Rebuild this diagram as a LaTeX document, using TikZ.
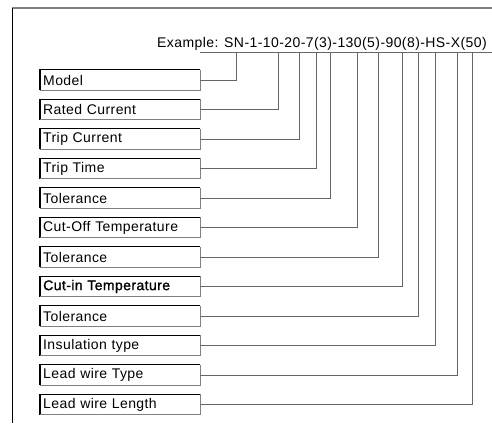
\documentclass[tikz,border=0pt]{standalone}
\usepackage{fontspec}
\setmainfont[LetterSpace=3]{Liberation Sans}
\newfontfamily\darkfont[LetterSpace=3,FakeBold=1.2]{Liberation Sans}
\usepackage{tikz}

\tikzset{
  partbox/.style={anchor=west, minimum width=160pt, minimum height=20pt,
    inner sep=3pt, text width=154pt, align=left,
    font=\fontsize{14}{16}\selectfont,
    append after command={
      \pgfextra{\draw[black, line width=1.2pt] (\tikzlastnode.south west) |- (\tikzlastnode.north east);
      \draw[gray, line width=1.2pt] (\tikzlastnode.north east) |- (\tikzlastnode.south west);}}},
  lead/.style={black!60, line width=1pt}
}

\begin{document}
\begin{tikzpicture}[x=1pt, y=-1pt]
\useasboundingbox (0,0) rectangle (492,423);
% frame
\draw[gray, line width=1.5pt] (12,8) -- (492,8);
\draw[black, line width=1pt] (12.5,8) -- (12.5,423);

% code line
\node[anchor=base west, inner sep=0pt, font=\fontsize{14}{16}\selectfont] (code) at (157,47) {Example: SN-1-10-20-7(3)-130(5)-90(8)-HS-X(50)};
\coordinate (ul-start) at (200,52);
\coordinate (ul-end) at (492,52);
\draw[lead] (ul-start) -- (ul-end);

% taps on the underline
\coordinate (t1) at (236,52);
\coordinate (t2) at (278,52);
\coordinate (t3) at (299,52);
\coordinate (t4) at (316,52);
\coordinate (t5) at (330,52);
\coordinate (t6) at (357,52);
\coordinate (t7) at (378,52);
\coordinate (t8) at (402,52);
\coordinate (t9) at (418,52);
\coordinate (t10) at (435,52);
\coordinate (t11) at (457,52);
\coordinate (t12) at (472,52);

% boxes
\node[partbox] (model) at (40,80) {Model};
\node[partbox] (rated) at (40,109.5) {Rated Current};
\node[partbox] (trip) at (40,139) {Trip Current};
\node[partbox] (time) at (40,168.5) {Trip Time};
\node[partbox] (tol1) at (40,198) {Tolerance};
\node[partbox] (cutoff) at (40,227.5) {Cut-Off Temperature};
\node[partbox] (tol2) at (40,257) {Tolerance};
\node[partbox, font=\darkfont\fontsize{14}{16}\selectfont] (cutin) at (40,286.5) {Cut-in Temperature};
\node[partbox] (tol3) at (40,316) {Tolerance};
\node[partbox] (insul) at (40,345.5) {Insulation type};
\node[partbox] (wiretype) at (40,375) {Lead wire Type};
\node[partbox] (wirelen) at (40,404.5) {Lead wire Length};

% leads
\draw[lead] (model.east) -| (t1);
\draw[lead] (rated.east) -| (t2);
\draw[lead] (trip.east) -| (t3);
\draw[lead] (time.east) -| (t4);
\draw[lead] (tol1.east) -| (t5);
\draw[lead] (cutoff.east) -| (t6);
\draw[lead] (tol2.east) -| (t7);
\draw[lead] (cutin.east) -| (t8);
\draw[lead] (tol3.east) -| (t9);
\draw[lead] (insul.east) -| (t10);
\draw[lead] (wiretype.east) -| (t11);
\draw[lead] (wirelen.east) -| (t12);
\end{tikzpicture}
\end{document}
